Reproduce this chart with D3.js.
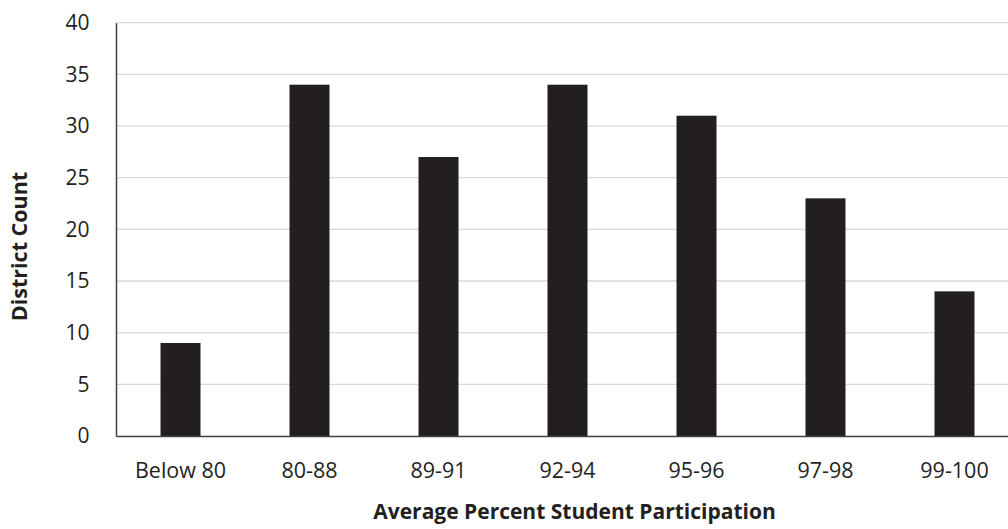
<!DOCTYPE html>
<html><head><meta charset="utf-8">
<script src="https://cdn.jsdelivr.net/npm/d3@7"></script>
<style>body{margin:0;background:#fff}svg{display:block}text{font-family:"Open Sans","Noto Sans",sans-serif;fill:#231f20}</style>
</head><body><svg id="c" width="1008" height="529"></svg>
<script>
const categories = ["Below 80","80-88","89-91","92-94","95-96","97-98","99-100"];
const counts = [9,34,27,34,31,23,14];
const yTicks = [0,5,10,15,20,25,30,35,40];

const svg = d3.select("#c");
const x = d3.scaleBand().domain(categories).range([116,1019]).paddingInner(0.69).paddingOuter(0.345);
const y = d3.scaleLinear().domain([0,40]).range([436,22.7]);

svg.append("g").selectAll("line").data(yTicks.filter(d=>d>0)).join("line")
  .attr("x1",116).attr("x2",1008).attr("y1",d=>y(d)).attr("y2",d=>y(d))
  .attr("stroke","#d9d9d9").attr("stroke-width",1.3);

svg.append("g").selectAll("rect").data(counts).join("rect")
  .attr("x",(d,i)=>x(categories[i])).attr("width",x.bandwidth())
  .attr("y",d=>y(d)).attr("height",d=>y(0)-y(d)).attr("fill","#231f20");

const ya = svg.append("g").attr("transform","translate(116,0)")
  .call(d3.axisLeft(y).tickValues(yTicks).tickSize(0).tickPadding(26.5));
ya.select(".domain").attr("stroke","#404040").attr("stroke-width",1.5);
ya.selectAll("text").style("font-size","21px").style("font-family","'Open Sans','Noto Sans',sans-serif").attr("fill","#231f20");

const xa = svg.append("g").attr("transform","translate(0,436)")
  .call(d3.axisBottom(x).tickSize(0).tickPadding(27));
xa.select(".domain").attr("stroke","#404040").attr("stroke-width",1.5);
xa.selectAll("text").style("font-size","21.5px").style("font-family","'Open Sans','Noto Sans',sans-serif").attr("fill","#231f20");

svg.append("text").attr("x",574.5).attr("y",519).attr("text-anchor","middle")
  .style("font-size","21px").style("font-weight","bold").text("Average Percent Student Participation");
svg.append("text").attr("transform","translate(27,246.5) rotate(-90)").attr("text-anchor","middle")
  .style("font-size","21.5px").style("font-weight","bold").text("District Count");
</script></body></html>
